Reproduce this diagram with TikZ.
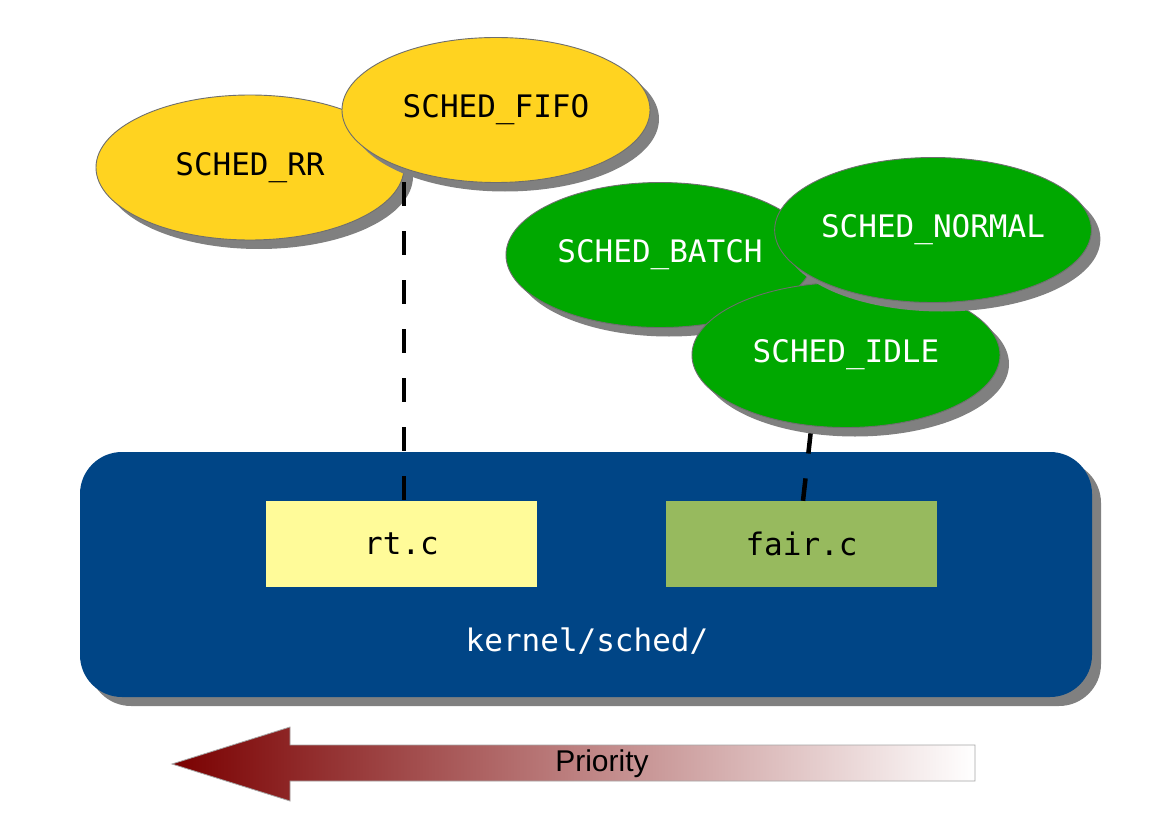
\documentclass[tikz,border=0pt]{standalone}
\usepackage{fontspec}
\newfontfamily\monof{DejaVu Sans Mono}
\newfontfamily\priof{Liberation Sans}
\usetikzlibrary{shapes.geometric,shadows}
\definecolor{schedyellow}{HTML}{FFD320}
\definecolor{schedgreen}{HTML}{00A800}
\definecolor{kernelblue}{HTML}{004586}
\definecolor{rtfill}{HTML}{FFFB99}
\definecolor{fairfill}{HTML}{97BA5E}
\definecolor{shadowgray}{HTML}{808080}
\definecolor{outlinegray}{HTML}{6E6E6E}
\definecolor{arrowred}{HTML}{7A0000}
\tikzset{
  gshadow/.style={general shadow={fill=shadowgray, shadow xshift=9pt, shadow yshift=-9pt}},
  policy/.style={ellipse, draw=outlinegray, line width=0.9pt, gshadow,
    minimum width=308pt, minimum height=145pt, inner sep=0pt,
    font=\monof\fontsize{31}{36}\selectfont},
  rtpolicy/.style={policy, fill=schedyellow, text=black},
  fairpolicy/.style={policy, fill=schedgreen, text=white},
  filebox/.style={rectangle, minimum width=271pt, minimum height=86pt, inner sep=0pt,
    font=\monof\fontsize{31}{36}\selectfont, text=black},
  link/.style={line width=4.5pt, dash pattern=on 24pt off 25pt, black},
}
\begin{document}
\begin{tikzpicture}[x=1pt,y=-1pt]
\useasboundingbox[fill=white] (0,0) rectangle (1162,840);
% kernel box
\node[rectangle, rounded corners=42pt, fill=kernelblue, gshadow,
  minimum width=1012pt, minimum height=245pt, inner sep=0pt] (kernel) at (586,574.5) {};
\node[font=\monof\fontsize{31}{36}\selectfont, text=white] (kernlabel) at (587,641) {kernel/sched/};
\node[filebox, fill=rtfill] (rtc) at (401.5,544) {rt.c};
\node[filebox, fill=fairfill] (fairc) at (801.5,544) {fair.c};
% real-time policies
\node[rtpolicy] (rr) at (250,167.5) {SCHED\_RR};
\coordinate (fifotop) at (404,133);
\draw[link] (fifotop) -- (rtc.north -| fifotop);
\node[rtpolicy] (fifo) at (496,110) {SCHED\_FIFO};
% fair policies
\node[fairpolicy] (batch) at (660,255) {SCHED\_BATCH};
\coordinate (idletop) at (816.5,381);
\draw[link] (idletop) -- ([xshift=1.5pt]fairc.north);
\node[fairpolicy] (idle) at (846,355) {SCHED\_IDLE};
\node[fairpolicy] (normal) at (933,230) {SCHED\_NORMAL};
% priority arrow
\shadedraw[left color=arrowred, right color=white, draw=shadowgray!70, line width=0.8pt]
  (172,764) -- (290,727) -- (290,745) -- (975,745) -- (975,781) -- (290,781) -- (290,801) -- cycle;
\node[font=\priof\fontsize{30}{35}\selectfont, text=black] (prio) at (602,764) {Priority};
\end{tikzpicture}
\end{document}
